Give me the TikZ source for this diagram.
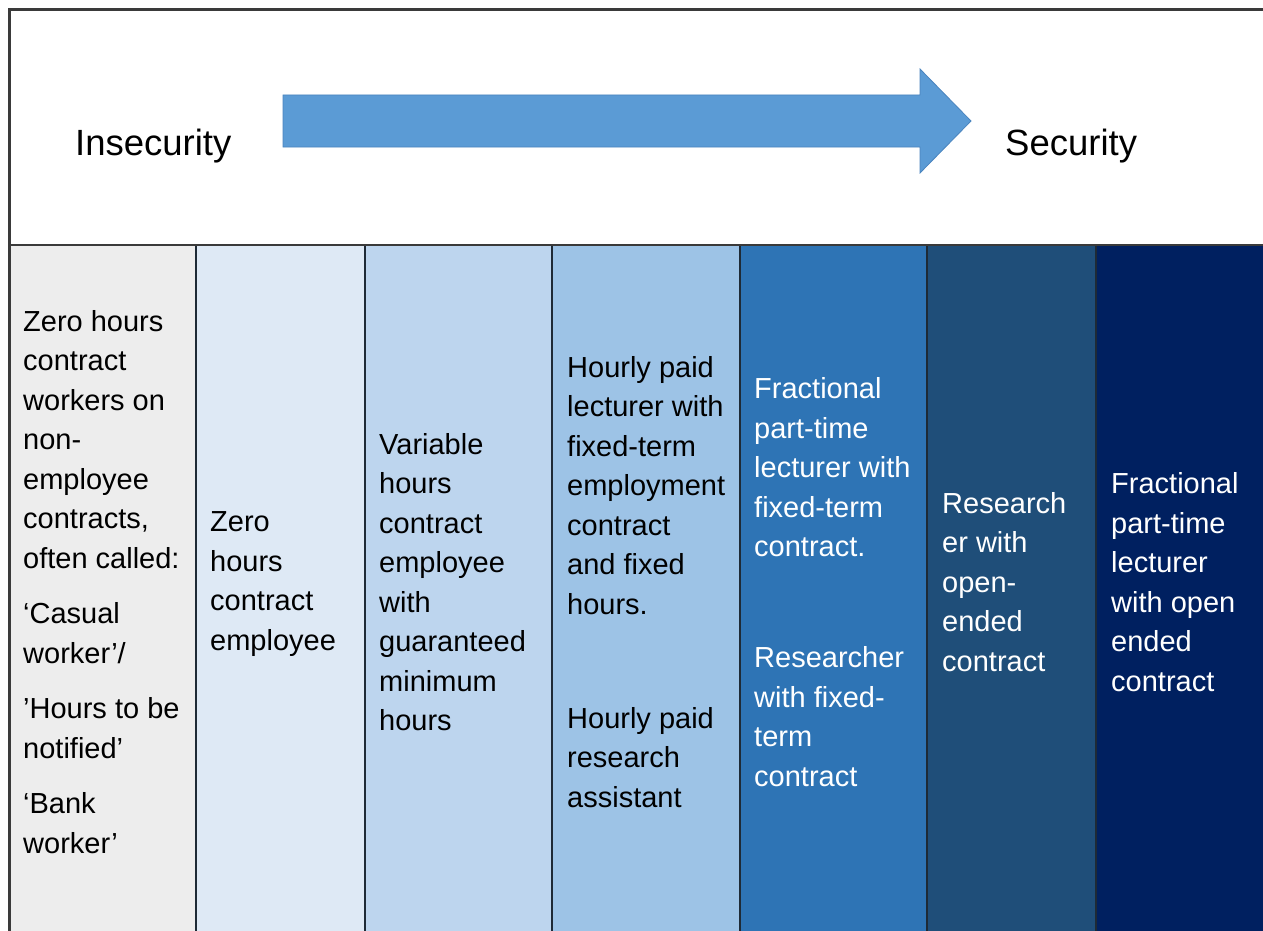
\documentclass[tikz,border=0pt]{standalone}
\usepackage{fontspec}
\setmainfont{Liberation Sans}
\definecolor{cA}{HTML}{EDEDED}
\definecolor{cB}{HTML}{DEE9F5}
\definecolor{cC}{HTML}{BDD5EE}
\definecolor{cD}{HTML}{9DC3E6}
\definecolor{cE}{HTML}{2E74B5}
\definecolor{cF}{HTML}{1F4E79}
\definecolor{cG}{HTML}{002060}
\definecolor{arrowfill}{HTML}{5B9BD5}
\definecolor{arrowline}{HTML}{4A84BE}
\definecolor{frameline}{HTML}{3A3A3A}
\definecolor{sepline}{HTML}{1E2A36}
\begin{document}
\begin{tikzpicture}[x=1pt,y=-1pt,
  coltext/.style={anchor=west, align=left, inner sep=0pt,
    font=\fontsize{29}{39.5}\selectfont},
  headtext/.style={anchor=base west, inner sep=0pt,
    font=\fontsize{36.5}{44}\selectfont},
  sep/.style={draw=sepline, line width=1.8pt},
  frame/.style={draw=frameline, line width=2.2pt}]
\useasboundingbox (0,0) rectangle (1263,931);
\fill[white] (0,0) rectangle (1263,931);
\begin{scope}
\clip (0,0) rectangle (1263,931);
% column fills
\fill[cA] (9,245) rectangle (196,935);
\fill[cB] (196,245) rectangle (365,935);
\fill[cC] (365,245) rectangle (552,935);
\fill[cD] (552,245) rectangle (740,935);
\fill[cE] (740,245) rectangle (927,935);
\fill[cF] (927,245) rectangle (1096,935);
\fill[cG] (1096,245) rectangle (1270,935);
% separators
\foreach \xx in {196,365,552,740,927,1096}
  \draw[sep] (\xx,245) -- (\xx,935);
% frame
\draw[frame] (1270,9.5) -- (9.5,9.5) -- (9.5,935);
\draw[frame] (9.5,245) -- (1270,245);
\end{scope}
% arrow
\draw[fill=arrowfill, draw=arrowline, line width=0.8pt, line join=miter]
  (283,95) -- (920,95) -- (920,69) -- (971,121) -- (920,173) -- (920,147) -- (283,147) -- cycle;
\node[headtext] (insec) at (75,155) {Insecurity};
\node[headtext] (sec) at (1005,155) {Security};
% column texts
\node[coltext] (t1) at (23,582) {Zero hours\\contract\\workers on\\non-\\employee\\contracts,\\often called:\\[16pt]‘Casual\\worker’/\\[16pt]’Hours to be\\notified’\\[16pt]‘Bank\\worker’};
\node[coltext] (t2) at (210,584) {Zero\\hours\\contract\\employee};
\node[coltext] (t3) at (379,582) {Variable\\hours\\contract\\employee\\with\\guaranteed\\minimum\\hours};
\node[coltext] (t4) at (567,582) {Hourly paid\\lecturer with\\fixed-term\\employment\\contract\\and fixed\\hours.\\[74.5pt]Hourly paid\\research\\assistant};
\node[coltext, text=white] (t5) at (754,582) {Fractional\\part-time\\lecturer with\\fixed-term\\contract.\\[71.5pt]Researcher\\with fixed-\\term\\contract};
\node[coltext, text=white] (t6) at (942,582) {Research\\er with\\open-\\ended\\contract};
\node[coltext, text=white] (t7) at (1111,582) {Fractional\\part-time\\lecturer\\with open\\ended\\contract};
\end{tikzpicture}
\end{document}
